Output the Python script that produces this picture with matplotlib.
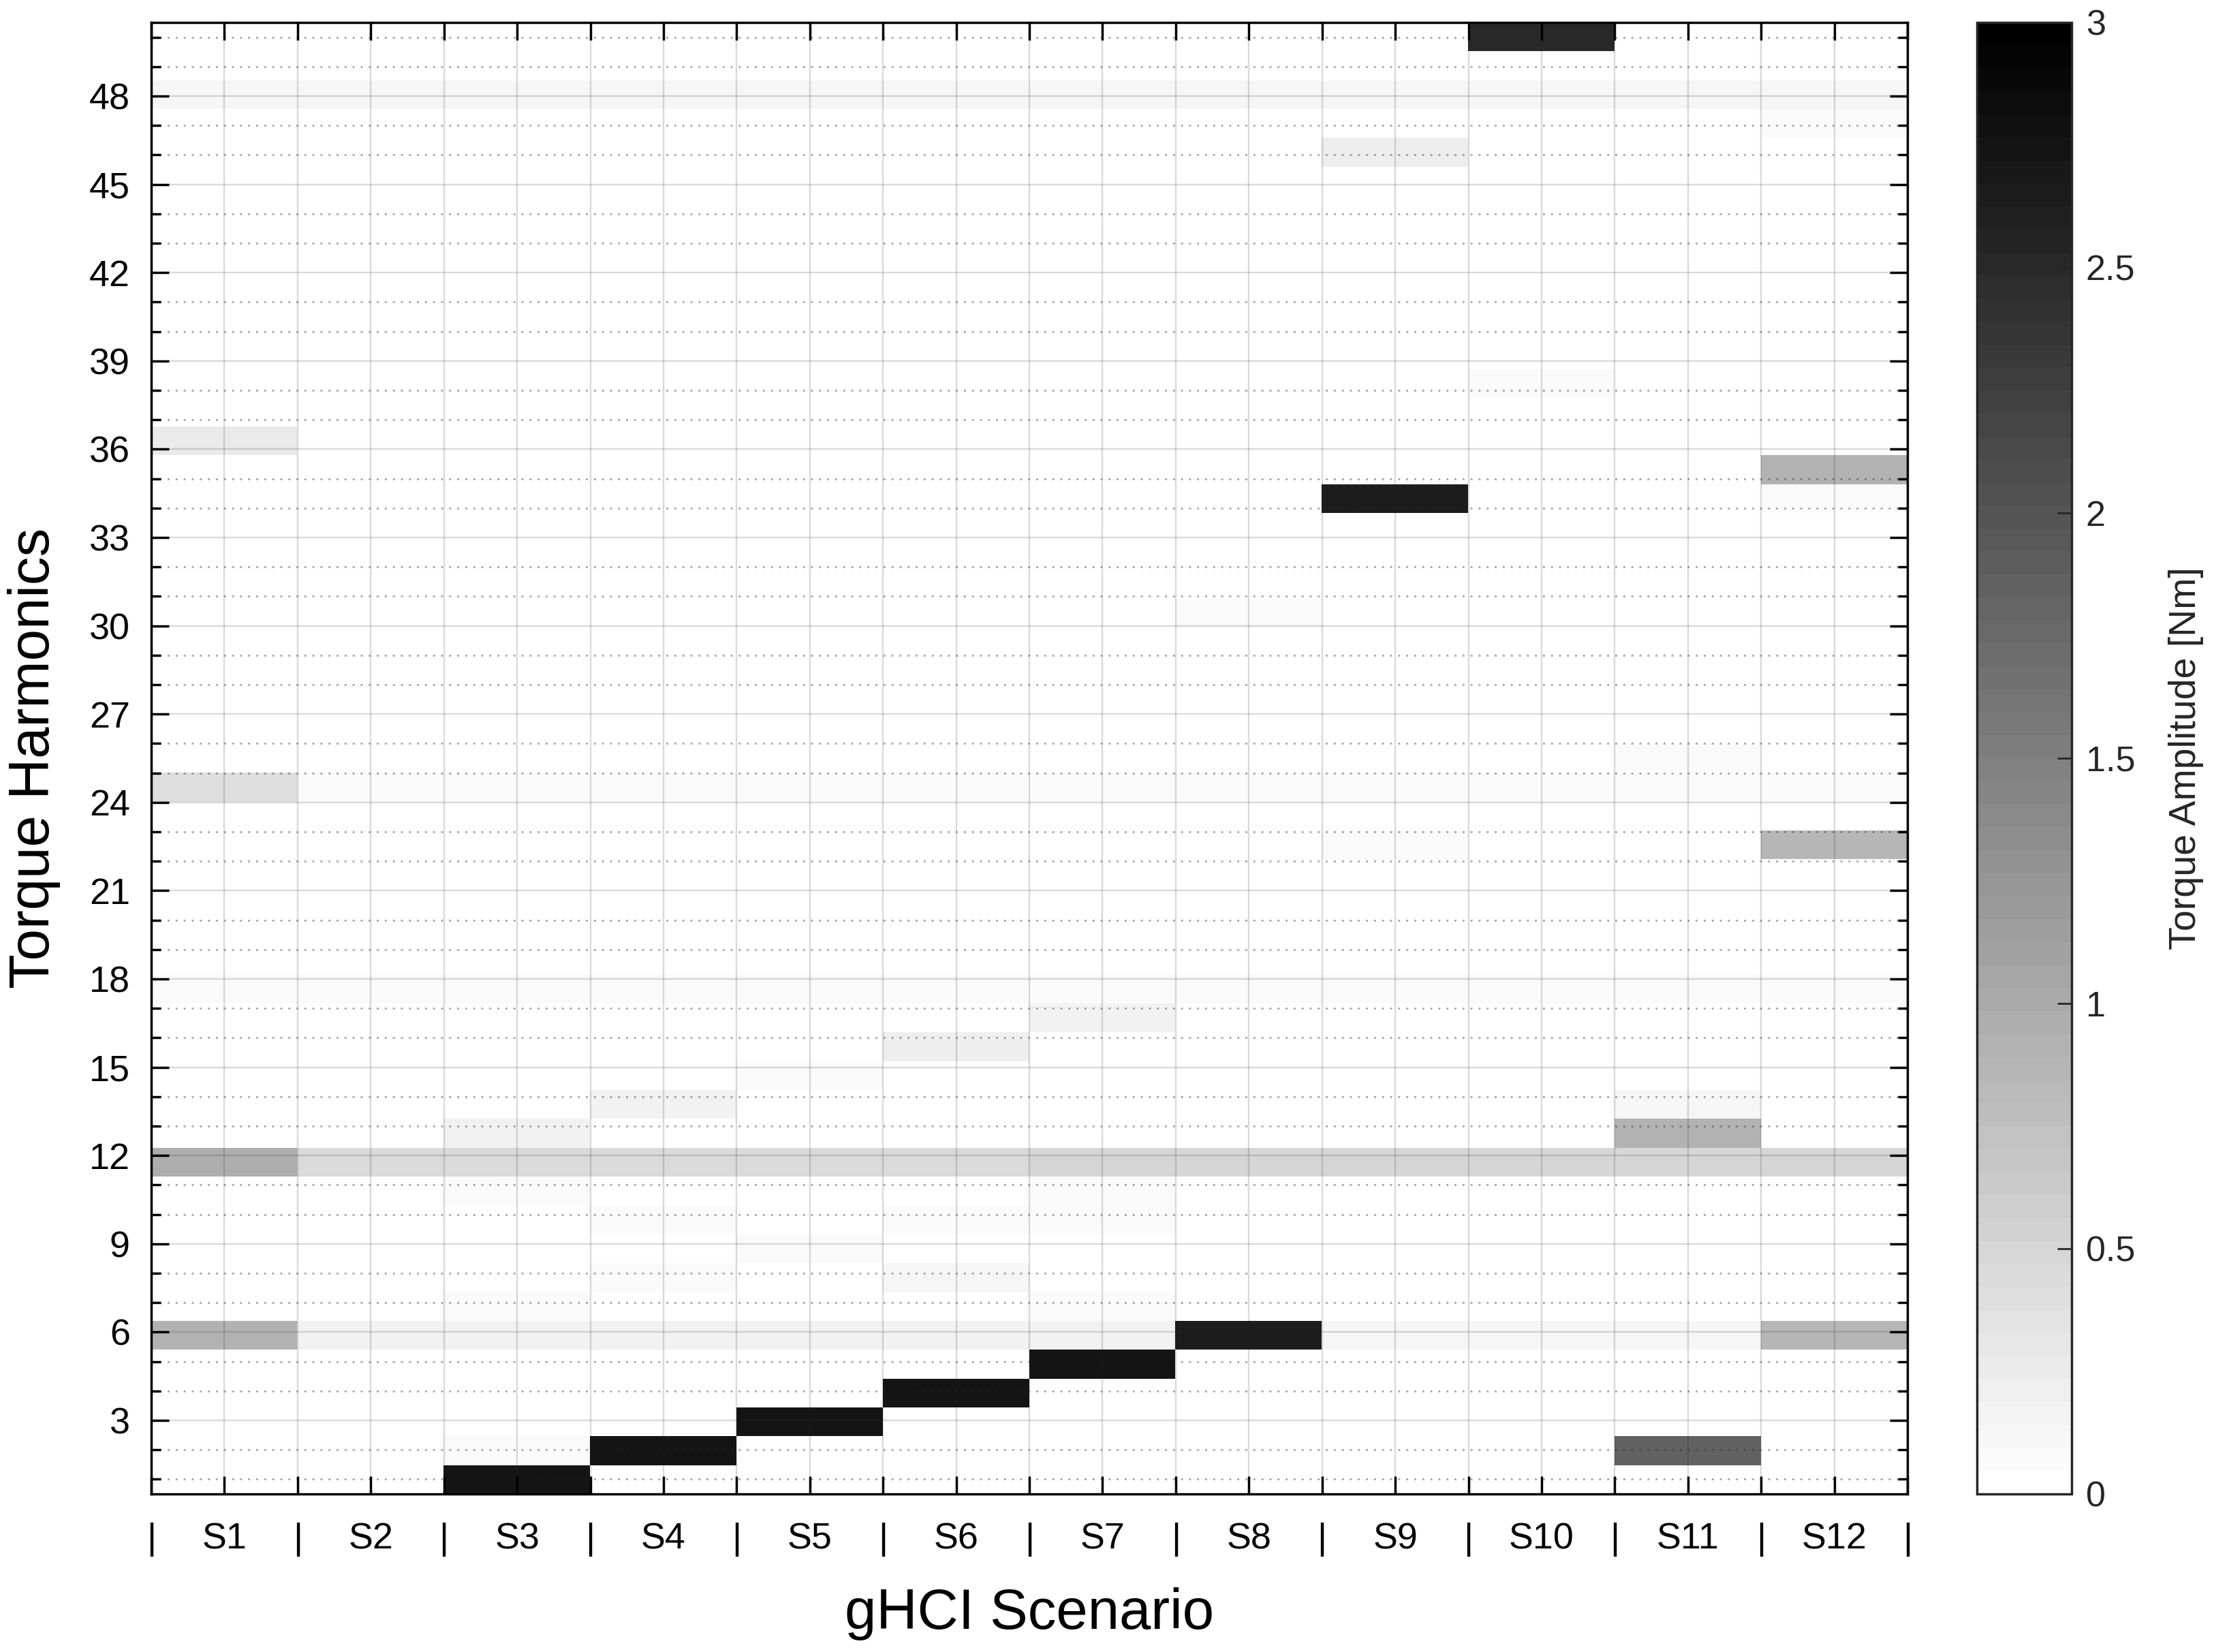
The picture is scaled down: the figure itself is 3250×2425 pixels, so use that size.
import numpy as np
import matplotlib
matplotlib.use('Agg')
import matplotlib.pyplot as plt
from matplotlib.ticker import MultipleLocator

plt.rcParams['font.family'] = ['Liberation Sans', 'DejaVu Sans']

# ---------------- data ----------------
scenarios = ['S1', 'S2', 'S3', 'S4', 'S5', 'S6',
             'S7', 'S8', 'S9', 'S10', 'S11', 'S12']
n_bins = 51                 # spectral bins covering harmonic orders 1 ... 50
order_first, order_last = 1, 50

# amplitude [Nm] per scenario: {bin index: amplitude}
S1 = {5: 0.91, 11: 0.96, 17: 0.07, 24: 0.40, 36: 0.25, 48: 0.12}
S2 = {5: 0.16, 11: 0.44, 17: 0.07, 24: 0.07, 48: 0.12}
S3 = {0: 2.74, 1: 0.09, 5: 0.16, 6: 0.07, 10: 0.07, 11: 0.44, 12: 0.16,
      17: 0.07, 24: 0.07, 48: 0.12}
S4 = {1: 2.76, 5: 0.16, 7: 0.07, 9: 0.07, 11: 0.44, 13: 0.16,
      17: 0.07, 24: 0.07, 48: 0.12}
S5 = {2: 2.74, 5: 0.16, 8: 0.07, 11: 0.44, 14: 0.07,
      17: 0.07, 24: 0.07, 48: 0.12}
S6 = {3: 2.74, 5: 0.16, 7: 0.12, 9: 0.07, 11: 0.44, 15: 0.20,
      17: 0.07, 24: 0.07, 48: 0.12}
S7 = {4: 2.76, 5: 0.16, 6: 0.06, 9: 0.07, 10: 0.07, 11: 0.49, 16: 0.17,
      17: 0.07, 24: 0.07, 48: 0.12}
S8 = {5: 2.66, 11: 0.49, 17: 0.07, 24: 0.07, 30: 0.06, 48: 0.12}
S9 = {5: 0.12, 11: 0.49, 17: 0.07, 22: 0.07, 24: 0.07, 34: 2.64,
      46: 0.20, 48: 0.12}
S10 = {5: 0.12, 11: 0.49, 17: 0.07, 24: 0.07, 38: 0.07, 48: 0.12, 50: 2.51}
S11 = {1: 1.85, 5: 0.12, 11: 0.49, 12: 0.91, 13: 0.12, 17: 0.07,
       24: 0.07, 25: 0.07, 48: 0.12}
S12 = {5: 0.89, 11: 0.49, 17: 0.07, 22: 0.89, 24: 0.07, 34: 0.09,
       35: 0.91, 47: 0.07, 48: 0.12}

scenario_data = [S1, S2, S3, S4, S5, S6, S7, S8, S9, S10, S11, S12]

cbar_ticks = [0, 0.5, 1, 1.5, 2, 2.5, 3]
cbar_ticklabels = ['0', '0.5', '1', '1.5', '2', '2.5', '3']

# ---------------- matrix ----------------
Z = np.zeros((n_bins, len(scenarios)))
for j, d in enumerate(scenario_data):
    for k, v in d.items():
        Z[k, j] = v

# ---------------- figure ----------------
W, H = 3250, 2425
dpi = 250
fig = plt.figure(figsize=(W / dpi, H / dpi), dpi=dpi)

ax_l, ax_r, ax_t, ax_b = 222, 2800, 33, 2193
ax = fig.add_axes([ax_l / W, (H - ax_b) / H, (ax_r - ax_l) / W, (ax_b - ax_t) / H])

cmap = plt.get_cmap('gray_r', 64)
half = (order_last - order_first) / (n_bins - 1) / 2
im = ax.imshow(Z, origin='lower', aspect='auto', cmap=cmap, vmin=0, vmax=3,
               interpolation='nearest',
               extent=[0.5, len(scenarios) + 0.5,
                       order_first - half, order_last + half])

ax.set_xlim(0.5, len(scenarios) + 0.5)
ax.set_ylim(0.5, 50.5)

xt = np.arange(0.5, len(scenarios) + 0.51, 0.5)
xl = ['|' if i % 2 == 0 else scenarios[i // 2] for i in range(len(xt))]
ax.set_xticks(xt)
ax.set_xticklabels(xl)
for i, t in enumerate(ax.get_xticklabels()):
    if i % 2 == 0:
        t.set_fontsize(18)

ax.yaxis.set_major_locator(MultipleLocator(3))
ax.yaxis.set_minor_locator(MultipleLocator(1))

ax.tick_params(which='both', direction='in', top=True, right=True,
               width=1.0, color='black', labelsize=15.5, labelcolor='black')
ax.tick_params(which='major', length=7.5)
ax.tick_params(which='minor', length=4)
ax.tick_params(axis='x', pad=12)
ax.tick_params(axis='y', pad=9)

ax.set_axisbelow(False)
ax.grid(which='major', color='0.15', alpha=0.17, lw=0.7, ls='-')
ax.grid(which='minor', axis='y', color='0.15', alpha=0.38, lw=0.85, ls=(0, (1, 3)))

for s in ax.spines.values():
    s.set_linewidth(1.0)
    s.set_color('black')

ax.set_xlabel('gHCI Scenario', fontsize=24, labelpad=13)
ax.set_ylabel('Torque Harmonics', fontsize=24, labelpad=12)

# colorbar
cb_l, cb_r = 2902, 3041
cax = fig.add_axes([cb_l / W, (H - ax_b) / H, (cb_r - cb_l) / W, (ax_b - ax_t) / H])
cb = fig.colorbar(im, cax=cax)
cb.set_ticks(cbar_ticks)
cb.set_ticklabels(cbar_ticklabels)
cb.outline.set_edgecolor('#262626')
cb.outline.set_linewidth(1.0)
cax.tick_params(direction='in', length=6, width=0.8, color='#262626',
                labelsize=15, labelcolor='#262626', pad=6)
cb.set_label('Torque Amplitude [Nm]', fontsize=16, color='#262626', labelpad=14)

fig.savefig('out.png', dpi=dpi)
